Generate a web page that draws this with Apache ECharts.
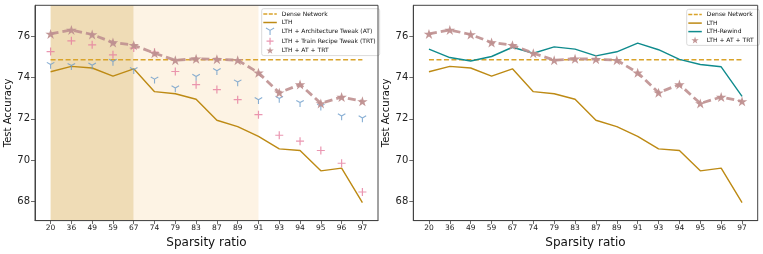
<!DOCTYPE html>
<html>
<head>
<meta charset="utf-8">
<script src="https://cdn.jsdelivr.net/npm/echarts@6.0.0/dist/echarts.min.js"></script>
<style>
html,body{margin:0;padding:0;background:#fff;}
#chart{width:763px;height:254px;}
</style>
</head>
<body>
<div id="chart"></div>
<script>
// ---- data ----
const categories = ['20','36','49','59','67','74','79','83','87','89','91','93','94','95','96','97'];
const yTicks = [68, 70, 72, 74, 76];
const denseValue = 74.87;
const lth =      [74.29,74.55,74.47,74.08,74.43,73.32,73.22,72.95,71.93,71.62,71.15,70.54,70.46,69.47,69.60,67.92];
const lthAT =    [74.64,74.59,74.61,74.79,74.39,73.93,73.50,74.06,74.34,73.79,72.93,72.99,72.79,72.61,72.14,72.04];
const lthTRT =   [75.27,75.79,75.60,75.11,75.44,75.24,74.30,73.66,73.42,72.93,72.20,71.20,70.91,70.46,69.84,68.44];
const lthATTRT = [76.13,76.32,76.10,75.71,75.58,75.19,74.85,74.92,74.90,74.85,74.24,73.27,73.67,72.75,73.06,72.85];
const lthRewind =[75.39,74.98,74.81,75.03,75.48,75.19,75.50,75.39,75.06,75.26,75.68,75.36,74.89,74.64,74.53,73.09];
const darkSpan = ['20','67'];
const lightSpan = ['67','91'];

// ---- styles ----
const FONT = 'DejaVu Sans';
const C_DENSE = '#d9a32a', C_LTH = '#bd8a14', C_AT = '#6a9bc9', C_TRT = '#e57c9e', C_STAR = '#bf9090', C_REW = '#0f8b8d';
const CLEAR = 'rgba(0,0,0,0)';
const STAR = 'path://M50,0 L61.23,34.55 L97.56,34.55 L68.16,55.9 L79.39,90.45 L50,69.1 L20.61,90.45 L31.84,55.9 L2.44,34.55 L38.77,34.55 Z';
const TRI = 'path://M0,0 L0,10 M0,0 L-8.66,-5 M0,0 L8.66,-5';
const PLUS = 'path://M-5,0 L5,0 M0,-5 L0,5';
const DASH_ICON = 'path://M0,0 H4 V1.5 H0 Z M5.5,0 H9.5 V1.5 H5.5 Z M11,0 H13.5 V1.5 H11 Z';
const LINE_ICON = 'path://M0,0 H13.5 V1.5 H0 Z';

const idx = categories.map((c, i) => i);
const pts = arr => arr.map((v, i) => [i, v]);

function xAxisFor(g) {
  return {
    type: 'value', gridIndex: g, min: -0.75, max: 15.75,
    axisLine: {show: true, onZero: false, lineStyle: {color: '#444', width: 1}},
    axisTick: {show: true, customValues: idx, length: 3.5, lineStyle: {color: '#444', width: 0.8}},
    axisLabel: {customValues: idx, formatter: v => categories[Math.round(v)], fontSize: 7.5, color: '#222', margin: 3.5, fontFamily: FONT},
    splitLine: {show: false},
    name: 'Sparsity ratio', nameLocation: 'middle', nameGap: 13,
    nameTextStyle: {fontSize: 12, color: '#111', fontFamily: FONT}
  };
}
function yAxisFor(g) {
  return {
    type: 'value', gridIndex: g, min: 67.05, max: 77.52,
    axisLine: {show: true, onZero: false, lineStyle: {color: '#444', width: 1}},
    axisTick: {show: true, customValues: yTicks, length: 4, lineStyle: {color: '#444', width: 0.8}},
    axisLabel: {customValues: yTicks, fontSize: 10, color: '#222', margin: 5, fontFamily: FONT},
    splitLine: {show: false},
    name: 'Test Accuracy', nameLocation: 'middle', nameGap: 17, nameRotate: 90,
    nameTextStyle: {fontSize: 10, color: '#111', fontFamily: FONT}
  };
}
function legendFor(g, left, top, items) {
  return {
    orient: 'vertical', left: left, top: top,
    padding: [1.8, 4, 1.8, 1.6], itemWidth: 13.5, itemHeight: 7, itemGap: 1.5,
    backgroundColor: 'rgba(255,255,255,0.85)', borderColor: '#d0d0d0', borderWidth: 0.8, borderRadius: 2,
    textStyle: {fontSize: 6, lineHeight: 7, color: '#111', fontFamily: FONT},
    selectedMode: false,
    data: items
  };
}

function denseSeries(g, name) {
  return {
    name: name, type: 'line', xAxisIndex: g, yAxisIndex: g, color: C_DENSE,
    data: [[0, denseValue], [categories.length - 1, denseValue]],
    symbol: 'none', lineStyle: {color: C_DENSE, width: 1.5, type: [5, 2.5]}, z: 3
  };
}
function lthSeries(g) {
  return {name: 'LTH', type: 'line', xAxisIndex: g, yAxisIndex: g, color: C_LTH, data: pts(lth),
    symbol: 'none', lineStyle: {color: C_LTH, width: 1.4}, z: 3};
}
function starSeries(g) {
  return {name: 'LTH + AT + TRT', type: 'line', xAxisIndex: g, yAxisIndex: g, color: C_STAR, data: pts(lthATTRT),
    symbol: STAR, symbolSize: 10.5, symbolKeepAspect: true, showAllSymbol: true,
    itemStyle: {color: C_STAR, opacity: 0.95},
    lineStyle: {color: C_STAR, width: 2.8, type: [8, 4], opacity: 0.9}, z: 6};
}

const option = {
  animation: false,
  backgroundColor: '#fff',
  textStyle: {fontFamily: FONT},
  grid: [
    {left: 35, top: 5.3, width: 343, height: 215.7, show: true, borderColor: '#444', borderWidth: 1, backgroundColor: 'transparent', z: 10},
    {left: 413.3, top: 5.3, width: 344.4, height: 215.7, show: true, borderColor: '#444', borderWidth: 1, backgroundColor: 'transparent', z: 10}
  ],
  xAxis: [xAxisFor(0), xAxisFor(1)],
  yAxis: [yAxisFor(0), yAxisFor(1)],
  legend: [
    legendFor(0, 261.7, 8.7, [
      {name: 'Dense Network', icon: DASH_ICON, itemStyle: {color: C_DENSE, borderWidth: 0}},
      {name: 'LTH', icon: LINE_ICON, itemStyle: {color: C_LTH, borderWidth: 0}},
      {name: 'LTH + Architecture Tweak (AT)', icon: TRI, itemStyle: {color: CLEAR, borderColor: C_AT, borderWidth: 1.1}},
      {name: 'LTH + Train Recipe Tweak (TRT)', icon: PLUS, itemStyle: {color: CLEAR, borderColor: C_TRT, borderWidth: 1.2}},
      {name: 'LTH + AT + TRT', icon: STAR, itemStyle: {color: C_STAR, borderWidth: 0}}
    ]),
    legendFor(1, 686.7, 9.3, [
      {name: 'Dense Network ', icon: DASH_ICON, itemStyle: {color: C_DENSE, borderWidth: 0}},
      {name: 'LTH ', icon: LINE_ICON, itemStyle: {color: C_LTH, borderWidth: 0}},
      {name: 'LTH-Rewind', icon: LINE_ICON, itemStyle: {color: C_REW, borderWidth: 0}},
      {name: 'LTH + AT + TRT ', icon: STAR, itemStyle: {color: C_STAR, borderWidth: 0}}
    ])
  ],
  series: [
    // shading (left)
    {type: 'line', xAxisIndex: 0, yAxisIndex: 0, data: [], z: 1, silent: true,
      markArea: {silent: true, data: [
        [{xAxis: categories.indexOf(darkSpan[0]), itemStyle: {color: '#efdcb6'}}, {xAxis: categories.indexOf(darkSpan[1])}],
        [{xAxis: categories.indexOf(lightSpan[0]), itemStyle: {color: '#fdf3e4'}}, {xAxis: categories.indexOf(lightSpan[1])}]
      ]}},
    denseSeries(0, 'Dense Network'),
    lthSeries(0),
    {name: 'LTH + Architecture Tweak (AT)', type: 'scatter', xAxisIndex: 0, yAxisIndex: 0, data: pts(lthAT),
      symbol: TRI, symbolSize: 7.5, symbolKeepAspect: true, symbolOffset: [0, 1.1],
      itemStyle: {color: CLEAR, borderColor: C_AT, borderWidth: 1.1}, z: 4},
    {name: 'LTH + Train Recipe Tweak (TRT)', type: 'scatter', xAxisIndex: 0, yAxisIndex: 0, data: pts(lthTRT),
      symbol: PLUS, symbolSize: 8, itemStyle: {color: CLEAR, borderColor: C_TRT, borderWidth: 1.2}, z: 4},
    starSeries(0),
    // right chart
    denseSeries(1, 'Dense Network '),
    Object.assign(lthSeries(1), {name: 'LTH '}),
    {name: 'LTH-Rewind', type: 'line', xAxisIndex: 1, yAxisIndex: 1, color: C_REW, data: pts(lthRewind),
      symbol: 'none', lineStyle: {color: C_REW, width: 1.4}, z: 4},
    Object.assign(starSeries(1), {name: 'LTH + AT + TRT '})
  ]
};

const chart = echarts.init(document.getElementById('chart'), null, {renderer: 'canvas'});
chart.setOption(option);
</script>
</body>
</html>
